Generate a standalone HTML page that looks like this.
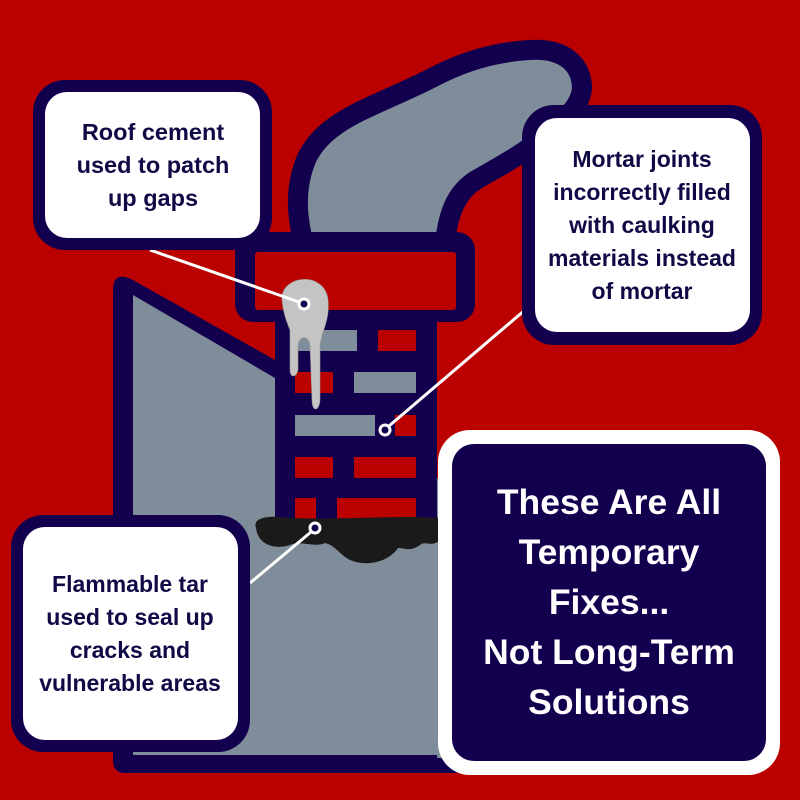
<!DOCTYPE html>
<html><head><meta charset="utf-8"><style>
html,body{margin:0;padding:0;background:#bb0000;}
svg{display:block}
text{font-family:"Liberation Sans",sans-serif;font-weight:bold;text-anchor:middle}
</style></head><body>
<svg width="800" height="800" viewBox="0 0 800 800" xmlns="http://www.w3.org/2000/svg">
<rect width="800" height="800" fill="#bb0000"/>
<!-- smoke -->
<path id="sm" d="M312,235 C306,210 306,185 316,162 C326,142 345,130 365,120 C390,108 415,98 440,85 C465,72 495,62 530,60 C555,58 572,68 572,88 C570,105 550,118 530,135 C510,150 490,160 470,172 C450,185 440,205 436,235 Z" fill="#7f8c99" stroke="#12004f" stroke-width="40" stroke-linejoin="round"/>
<path d="M312,235 C306,210 306,185 316,162 C326,142 345,130 365,120 C390,108 415,98 440,85 C465,72 495,62 530,60 C555,58 572,68 572,88 C570,105 550,118 530,135 C510,150 490,160 470,172 C450,185 440,205 436,235 Z" fill="#7f8c99"/>
<!-- building base -->
<path d="M113,290 Q113,270 133,280 L275,360 L275,300 L437,300 L437,480 L470,480 L470,773 L125,773 Q113,773 113,760 Z" fill="#12004f"/>
<path d="M133,295 L275,378 L275,520 L437,520 L437,755 L133,755 Z" fill="#7f8c99"/>
<rect x="437" y="478" width="8" height="280" fill="#7f8c99"/>
<!-- chimney cap -->
<rect x="235" y="232" width="240" height="90" rx="18" fill="#12004f"/>
<rect x="255" y="252" width="201" height="58" rx="3" fill="#bb0000"/>
<rect x="275" y="310" width="162" height="215" fill="#12004f"/>
<!-- bricks -->
<g>
<rect x="295" y="330" width="62" height="21" fill="#7f8c99"/><rect x="378" y="330" width="38" height="21" fill="#bb0000"/>
<rect x="295" y="372" width="38" height="21" fill="#bb0000"/><rect x="354" y="372" width="62" height="21" fill="#7f8c99"/>
<rect x="295" y="415" width="80" height="21" fill="#7f8c99"/><rect x="395" y="415" width="21" height="21" fill="#bb0000"/>
<rect x="295" y="457" width="38" height="21" fill="#bb0000"/><rect x="354" y="457" width="62" height="21" fill="#bb0000"/>
<rect x="295" y="498" width="21" height="22" fill="#bb0000"/><rect x="337" y="498" width="79" height="22" fill="#bb0000"/>
</g>
<!-- drip -->
<path d="M282,300 C280,275 325,270 328,300 C330,320 322,330 320,345 L320,400 C319,412 312,412 312,400 L310,345 C308,335 300,335 298,345 L298,370 C296,378 290,378 290,370 L290,330 C286,320 283,312 282,300 Z" fill="#c4c4c4" stroke="#999" stroke-width="0.6"/>
<!-- tar -->
<path d="M256,528 C252,517 270,515 290,518 C340,520 400,515 440,518 L440,540 C432,548 425,540 420,545 C410,552 405,548 398,548 C390,560 370,568 350,560 C340,555 335,545 325,543 C315,548 300,540 290,545 C275,550 258,545 256,528 Z" fill="#1a1a1a"/>
<!-- leader lines -->
<g stroke="#fff" stroke-width="3" fill="none">
<line x1="150" y1="250" x2="299" y2="302"/>
<line x1="525" y1="310" x2="389" y2="426"/>
<line x1="250" y1="583" x2="311" y2="532"/>
</g>
<g fill="#12004f" stroke="#fff" stroke-width="3">
<circle cx="304" cy="304" r="5"/><circle cx="385" cy="430" r="5"/><circle cx="315" cy="528" r="5"/>
</g>
<!-- callouts -->
<rect x="33" y="80" width="239" height="170" rx="32" fill="#12004f"/>
<rect x="45" y="92" width="215" height="146" rx="22" fill="#fff"/>
<g fill="#0f0a45" font-size="23.5">
<text x="153" y="140">Roof cement</text><text x="153" y="173">used to patch</text><text x="153" y="206">up gaps</text>
</g>
<rect x="522" y="105" width="240" height="240" rx="32" fill="#12004f"/>
<rect x="535" y="118" width="215" height="214" rx="22" fill="#fff"/>
<g fill="#0f0a45" font-size="23">
<text x="642" y="167">Mortar joints</text><text x="642" y="200">incorrectly filled</text><text x="642" y="233">with caulking</text><text x="642" y="266">materials instead</text><text x="642" y="299">of mortar</text>
</g>
<rect x="11" y="515" width="239" height="237" rx="32" fill="#12004f"/>
<rect x="23" y="527" width="215" height="213" rx="22" fill="#fff"/>
<g fill="#0f0a45" font-size="23">
<text x="130" y="592">Flammable tar</text><text x="130" y="625">used to seal up</text><text x="130" y="658">cracks and</text><text x="130" y="691">vulnerable areas</text>
</g>
<rect x="438" y="430" width="342" height="345" rx="32" fill="#fff"/>
<rect x="452" y="444" width="314" height="317" rx="22" fill="#12004f"/>
<g fill="#fff" font-size="35.5">
<text x="609" y="514">These Are All</text><text x="609" y="564">Temporary</text><text x="609" y="614">Fixes...</text><text x="609" y="664">Not Long-Term</text><text x="609" y="714">Solutions</text>
</g>
</svg>
</body></html>
